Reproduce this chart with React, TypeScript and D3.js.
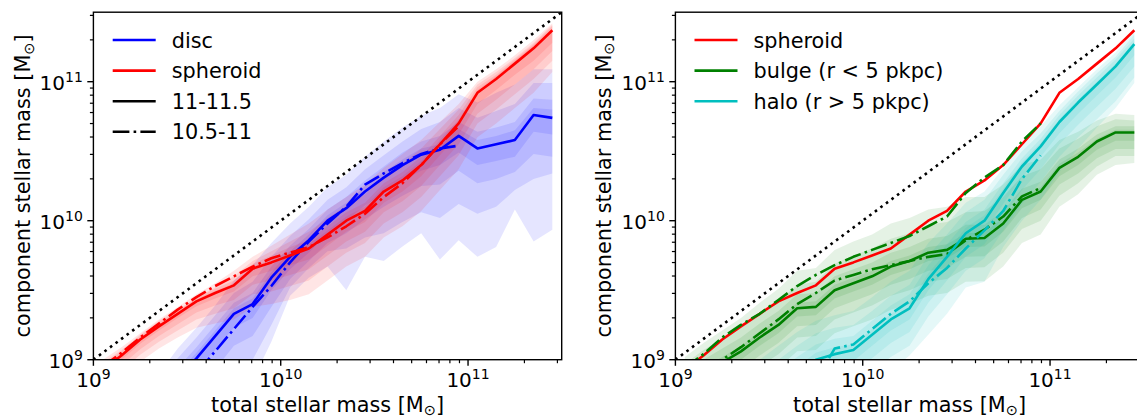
import React from "react";
import * as d3 from "d3";

// log10 of total stellar mass, bin centres
const logMassBins = [9.05, 9.15, 9.25, 9.35, 9.45, 9.55, 9.65, 9.75, 9.85, 9.95, 10.05, 10.15, 10.25, 10.35, 10.45, 10.55, 10.65, 10.75, 10.85, 10.95, 11.05, 11.15, 11.25, 11.35, 11.45];

// ---- left panel: disc / spheroid, log10 component mass ----
// 11-11.5 sample (solid)
const discMedian = [8.2, 8.35, 8.5, 8.7, 8.86, 9.01, 9.17, 9.33, 9.40, 9.59, 9.74, 9.86, 10.00, 10.09, 10.21, 10.31, 10.40, 10.475, 10.51, 10.61, 10.52, 10.55, 10.58, 10.76, 10.74];
const spheroidMedian = [8.93, 9.03, 9.145, 9.24, 9.33, 9.42, 9.48, 9.535, 9.655, 9.70, 9.75, 9.80, 9.90, 10.00, 10.07, 10.21, 10.29, 10.40, 10.55, 10.70, 10.92, 11.02, 11.13, 11.24, 11.37];
// 10.5-11 sample (dash-dot)
const discMedianLow = [7.95, 8.1, 8.27, 8.45, 8.68, 8.9, 9.06, 9.22, 9.38, 9.53, 9.70, 9.85, 9.98, 10.10, 10.26, 10.34, 10.415, 10.48, 10.52, 10.54];
const spheroidMedianLow = [8.95, 9.05, 9.16, 9.26, 9.36, 9.45, 9.53, 9.60, 9.67, 9.73, 9.77, 9.81, 9.88, 9.96, 10.05, 10.17, 10.27, 10.40, 10.55, 10.68];

// disc percentiles
const discP10 = [7.5, 7.7, 7.9, 8.05, 8.2, 8.35, 8.5, 8.65, 8.85, 9.13, 9.46, 9.59, 9.67, 9.50, 9.74, 9.71, 9.815, 9.91, 9.72, 9.86, 9.74, 9.81, 10.08, 9.85, 9.935];
const discP20 = [7.8, 7.95, 8.10, 8.30, 8.45, 8.60, 8.75, 8.90, 9.00, 9.25, 9.52, 9.66, 9.78, 9.80, 9.88, 9.91, 9.99, 10.06, 10.02, 10.12, 10.05, 10.10, 10.22, 10.30, 10.34];
const discP30 = [7.95, 8.10, 8.25, 8.45, 8.62, 8.78, 8.93, 9.10, 9.17, 9.38, 9.58, 9.71, 9.84, 9.91, 10.01, 10.10, 10.18, 10.25, 10.26, 10.36, 10.27, 10.30, 10.35, 10.48, 10.46];
const discP40 = [8.10, 8.25, 8.40, 8.60, 8.76, 8.92, 9.07, 9.23, 9.30, 9.50, 9.65, 9.77, 9.91, 10.00, 10.11, 10.20, 10.29, 10.36, 10.40, 10.49, 10.40, 10.43, 10.46, 10.64, 10.62];
const discP60 = [8.24, 8.39, 8.54, 8.74, 8.90, 9.05, 9.21, 9.37, 9.44, 9.63, 9.78, 9.90, 10.04, 10.13, 10.25, 10.35, 10.44, 10.52, 10.55, 10.66, 10.58, 10.61, 10.65, 10.81, 10.80];
const discP70 = [8.28, 8.43, 8.58, 8.78, 8.94, 9.09, 9.25, 9.41, 9.48, 9.67, 9.82, 9.94, 10.08, 10.17, 10.29, 10.39, 10.49, 10.57, 10.61, 10.71, 10.64, 10.67, 10.71, 10.88, 10.87];
const discP80 = [8.35, 8.50, 8.65, 8.85, 9.01, 9.16, 9.32, 9.48, 9.56, 9.74, 9.89, 10.01, 10.15, 10.24, 10.37, 10.47, 10.57, 10.66, 10.71, 10.81, 10.74, 10.79, 10.84, 10.99, 10.99];
const discP90 = [8.40, 8.55, 8.70, 8.90, 9.08, 9.23, 9.39, 9.57, 9.68, 9.84, 9.98, 10.10, 10.24, 10.33, 10.46, 10.57, 10.67, 10.755, 10.81, 10.91, 10.85, 10.92, 10.98, 11.09, 11.09];

// spheroid percentiles
const sphP10 = [8.77, 8.87, 8.985, 9.08, 9.16, 9.23, 9.26, 9.29, 9.38, 9.40, 9.43, 9.47, 9.57, 9.67, 9.74, 9.88, 9.96, 10.07, 10.22, 10.37, 10.60, 10.70, 10.81, 10.92, 11.07];
const sphP20 = [8.82, 8.92, 9.035, 9.13, 9.21, 9.29, 9.33, 9.37, 9.47, 9.49, 9.53, 9.57, 9.67, 9.77, 9.84, 9.98, 10.06, 10.17, 10.32, 10.47, 10.70, 10.80, 10.91, 11.02, 11.15];
const sphP30 = [8.86, 8.96, 9.075, 9.17, 9.255, 9.34, 9.39, 9.43, 9.54, 9.57, 9.61, 9.65, 9.75, 9.85, 9.92, 10.06, 10.14, 10.25, 10.40, 10.55, 10.77, 10.87, 10.98, 11.09, 11.22];
const sphP40 = [8.90, 9.0, 9.115, 9.21, 9.30, 9.385, 9.44, 9.49, 9.60, 9.64, 9.68, 9.72, 9.82, 9.92, 9.99, 10.13, 10.21, 10.32, 10.47, 10.62, 10.84, 10.94, 11.05, 11.15, 11.28];
const sphP60 = [8.945, 9.045, 9.16, 9.255, 9.345, 9.435, 9.495, 9.55, 9.67, 9.72, 9.78, 9.83, 9.93, 10.03, 10.10, 10.24, 10.32, 10.43, 10.58, 10.73, 10.94, 11.04, 11.15, 11.26, 11.38];
const sphP70 = [8.96, 9.06, 9.17, 9.27, 9.35, 9.44, 9.51, 9.57, 9.69, 9.75, 9.81, 9.86, 9.96, 10.06, 10.13, 10.27, 10.35, 10.46, 10.61, 10.76, 10.96, 11.05, 11.16, 11.27, 11.40];
const sphP80 = [8.98, 9.07, 9.18, 9.28, 9.36, 9.45, 9.52, 9.60, 9.71, 9.78, 9.85, 9.92, 10.02, 10.11, 10.19, 10.32, 10.41, 10.52, 10.66, 10.80, 10.98, 11.07, 11.17, 11.28, 11.41];
const sphP90 = [9.0, 9.09, 9.19, 9.29, 9.38, 9.47, 9.55, 9.64, 9.74, 9.82, 9.90, 9.98, 10.08, 10.17, 10.26, 10.38, 10.48, 10.58, 10.71, 10.84, 11.0, 11.09, 11.19, 11.30, 11.42];

// ---- right panel: bulge / halo ----
const bulgeMedian = [8.8, 8.9, 8.98, 9.06, 9.16, 9.25, 9.37, 9.38, 9.50, 9.55, 9.60, 9.67, 9.71, 9.77, 9.79, 9.87, 9.875, 9.98, 10.15, 10.21, 10.38, 10.46, 10.57, 10.635, 10.635];
const haloMedian = [8.3, 8.45, 8.55, 8.62, 8.7, 8.8, 8.9, 9.0, 9.04, 9.07, 9.18, 9.29, 9.37, 9.58, 9.74, 9.91, 10.0, 10.20, 10.39, 10.535, 10.71, 10.85, 10.98, 11.11, 11.27];
const bulgeMedianLow = [8.82, 8.92, 9.0, 9.09, 9.19, 9.29, 9.40, 9.48, 9.57, 9.61, 9.65, 9.68, 9.71, 9.74, 9.76, 9.86, 9.935, 10.03, 10.175, 10.235];
const bulgeUpperMedianLow = [8.94, 9.04, 9.16, 9.25, 9.33, 9.43, 9.53, 9.61, 9.68, 9.74, 9.79, 9.84, 9.89, 9.96, 10.03, 10.20, 10.31, 10.40, 10.57, 10.70];
const haloMedianLow = [8.1, 8.2, 8.3, 8.4, 8.5, 8.6, 8.7, 8.85, 9.08, 9.11, 9.22, 9.33, 9.42, 9.55, 9.66, 9.80, 9.93, 10.07, 10.30, 10.47];

const bulgeP10 = [8.49, 8.59, 8.67, 8.75, 8.85, 8.94, 9.06, 9.07, 9.19, 9.24, 9.29, 9.36, 9.40, 9.46, 9.48, 9.56, 9.565, 9.67, 9.84, 9.90, 10.10, 10.19, 10.33, 10.40, 10.415];
const bulgeP20 = [8.59, 8.69, 8.77, 8.85, 8.95, 9.04, 9.16, 9.17, 9.29, 9.34, 9.39, 9.46, 9.50, 9.56, 9.58, 9.66, 9.665, 9.77, 9.94, 10.00, 10.18, 10.27, 10.39, 10.465, 10.465];
const bulgeP30 = [8.67, 8.77, 8.85, 8.93, 9.03, 9.12, 9.24, 9.25, 9.37, 9.42, 9.47, 9.54, 9.58, 9.64, 9.66, 9.74, 9.745, 9.85, 10.02, 10.08, 10.26, 10.34, 10.45, 10.515, 10.515];
const bulgeP40 = [8.74, 8.84, 8.92, 9.00, 9.10, 9.19, 9.31, 9.32, 9.44, 9.49, 9.54, 9.61, 9.65, 9.71, 9.73, 9.81, 9.815, 9.92, 10.09, 10.15, 10.32, 10.40, 10.51, 10.575, 10.575];
const bulgeP60 = [8.84, 8.94, 9.02, 9.10, 9.20, 9.29, 9.41, 9.42, 9.54, 9.59, 9.64, 9.71, 9.75, 9.81, 9.83, 9.91, 9.915, 10.02, 10.18, 10.24, 10.41, 10.49, 10.59, 10.655, 10.655];
const bulgeP70 = [8.90, 9.00, 9.08, 9.16, 9.26, 9.35, 9.47, 9.48, 9.60, 9.65, 9.70, 9.77, 9.81, 9.87, 9.89, 9.97, 9.97, 10.07, 10.23, 10.28, 10.44, 10.52, 10.62, 10.68, 10.68];
const bulgeP80 = [8.97, 9.07, 9.15, 9.23, 9.33, 9.42, 9.54, 9.56, 9.69, 9.75, 9.80, 9.87, 9.91, 9.97, 9.99, 10.06, 10.07, 10.17, 10.32, 10.37, 10.52, 10.59, 10.68, 10.73, 10.72];
const bulgeP90 = [9.02, 9.12, 9.21, 9.30, 9.41, 9.51, 9.64, 9.66, 9.79, 9.85, 9.90, 9.98, 10.02, 10.08, 10.10, 10.17, 10.17, 10.26, 10.40, 10.44, 10.58, 10.64, 10.72, 10.77, 10.76];

const haloP10 = [7.9, 8.05, 8.15, 8.22, 8.30, 8.40, 8.50, 8.60, 8.65, 8.70, 8.80, 8.92, 9.03, 9.18, 9.33, 9.52, 9.56, 9.81, 10.0, 10.15, 10.35, 10.52, 10.67, 10.81, 10.99];
const haloP20 = [8.03, 8.18, 8.28, 8.35, 8.43, 8.53, 8.63, 8.73, 8.77, 8.80, 8.91, 9.02, 9.10, 9.31, 9.47, 9.64, 9.73, 9.93, 10.12, 10.28, 10.46, 10.60, 10.73, 10.86, 11.03];
const haloP30 = [8.13, 8.28, 8.38, 8.45, 8.53, 8.63, 8.73, 8.83, 8.87, 8.90, 9.01, 9.12, 9.20, 9.41, 9.57, 9.74, 9.83, 10.03, 10.22, 10.37, 10.55, 10.69, 10.82, 10.95, 11.11];
const haloP40 = [8.22, 8.37, 8.47, 8.54, 8.62, 8.72, 8.82, 8.92, 8.96, 8.99, 9.10, 9.21, 9.29, 9.50, 9.66, 9.83, 9.92, 10.12, 10.31, 10.46, 10.63, 10.77, 10.90, 11.03, 11.19];
const haloP60 = [8.35, 8.5, 8.6, 8.67, 8.75, 8.85, 8.95, 9.05, 9.09, 9.11, 9.22, 9.33, 9.41, 9.62, 9.78, 9.95, 10.04, 10.23, 10.42, 10.56, 10.73, 10.87, 11.0, 11.13, 11.29];
const haloP70 = [8.42, 8.57, 8.67, 8.74, 8.82, 8.92, 9.02, 9.11, 9.15, 9.17, 9.28, 9.39, 9.47, 9.68, 9.83, 9.99, 10.08, 10.27, 10.45, 10.59, 10.76, 10.90, 11.03, 11.16, 11.31];
const haloP80 = [8.5, 8.65, 8.75, 8.82, 8.9, 9.0, 9.1, 9.19, 9.23, 9.25, 9.35, 9.46, 9.54, 9.75, 9.90, 10.06, 10.15, 10.33, 10.50, 10.63, 10.79, 10.93, 11.06, 11.18, 11.34];
const haloP90 = [8.6, 8.75, 8.85, 8.92, 9.0, 9.1, 9.2, 9.28, 9.32, 9.35, 9.45, 9.56, 9.64, 9.84, 9.98, 10.13, 10.21, 10.38, 10.55, 10.68, 10.83, 10.96, 11.09, 11.21, 11.37];

const axisLogRange = [9, 11.5];
const majorTickExponents = [9, 10, 11];

const BLUE = "#0000ff";
const RED = "#ff0000";
const GREEN = "#008000";
const CYAN = "#00bfbf";

const FONT = "DejaVu Sans, Liberation Sans, sans-serif";
const DASHDOT = "16.7,4.2,2.6,4.2";
const DOTTED = "2.6,4.3";
const LW = 2.6;

const Y_BOTTOM = 359.7;
const Y_TOP = 12.2;

type Band = { lo: number[]; hi: number[] };

function Panel(props: {
  id: string;
  x0: number;
  x1: number;
  yLabelX: number;
  bands: { color: string; list: Band[] }[];
  lines: { color: string; values: number[]; dash?: string }[];
  legend: { color: string; label: string; dash?: string }[];
  legendX: number;
}) {
  const { id, x0, x1, yLabelX, bands, lines, legend, legendX } = props;
  const x = d3.scaleLog().domain(axisLogRange.map((v) => Math.pow(10, v))).range([x0, x1]);
  const y = d3.scaleLog().domain(axisLogRange.map((v) => Math.pow(10, v))).range([Y_BOTTOM, Y_TOP]);

  const area = (b: Band) =>
    d3
      .area<number>()
      .x((_, i) => x(Math.pow(10, logMassBins[i])))
      .y0((_, i) => y(Math.pow(10, b.lo[i])))
      .y1((_, i) => y(Math.pow(10, b.hi[i])))(b.lo.map((_, i) => i)) || "";

  const line = (vals: number[]) =>
    d3
      .line<number>()
      .x((i) => x(Math.pow(10, logMassBins[i])))
      .y((i) => y(Math.pow(10, vals[i])))(vals.map((_, i) => i)) || "";

  const diag =
    d3
      .line<number>()
      .x((v) => x(Math.pow(10, v)))
      .y((v) => y(Math.pow(10, v)))(axisLogRange) || "";

  const allTicks = x.ticks();
  const isMajor = (t: number) => Math.abs(Math.log10(t) - Math.round(Math.log10(t))) < 1e-6;
  const minor = allTicks.filter((t) => !isMajor(t));
  const major = majorTickExponents.map((e) => Math.pow(10, e));

  return (
    <g fontFamily={FONT}>
      <defs>
        <clipPath id={id}>
          <rect x={x0} y={Y_TOP} width={x1 - x0} height={Y_BOTTOM - Y_TOP} />
        </clipPath>
      </defs>
      <g clipPath={`url(#${id})`}>
        {bands.map((bs, k) =>
          bs.list.map((b, j) => <path key={`b${k}-${j}`} d={area(b)} fill={bs.color} fillOpacity={0.1} stroke="none" />)
        )}
        {lines.map((l, k) => (
          <path key={`l${k}`} d={line(l.values)} fill="none" stroke={l.color} strokeWidth={LW} strokeDasharray={l.dash} strokeLinejoin="round" />
        ))}
        <path d={diag} fill="none" stroke="#000" strokeWidth={LW} strokeDasharray={DOTTED} />
      </g>
      <rect x={x0} y={Y_TOP} width={x1 - x0} height={Y_BOTTOM - Y_TOP} fill="none" stroke="#000" strokeWidth={1.4} />
      {/* x ticks */}
      {minor.map((t, i) => (
        <line key={`xm${i}`} x1={x(t)} x2={x(t)} y1={Y_BOTTOM} y2={Y_BOTTOM + 3.5} stroke="#000" strokeWidth={1.2} />
      ))}
      {major.map((t, i) => (
        <g key={`xM${i}`}>
          <line x1={x(t)} x2={x(t)} y1={Y_BOTTOM} y2={Y_BOTTOM + 6.1} stroke="#000" strokeWidth={1.4} />
          <text x={x(t)} y={387} textAnchor="middle" fontSize={20}>
            10<tspan dy={-8.3} fontSize={14}>{majorTickExponents[i]}</tspan>
          </text>
        </g>
      ))}
      {/* y ticks */}
      {minor.map((t, i) => (
        <line key={`ym${i}`} x1={x0} x2={x0 - 3.5} y1={y(t)} y2={y(t)} stroke="#000" strokeWidth={1.2} />
      ))}
      {major.map((t, i) => (
        <g key={`yM${i}`}>
          <line x1={x0} x2={x0 - 6.1} y1={y(t)} y2={y(t)} stroke="#000" strokeWidth={1.4} />
          <text x={x0 - 10.5} y={y(t) + 8.3} textAnchor="end" fontSize={20}>
            10<tspan dy={-8.3} fontSize={14}>{majorTickExponents[i]}</tspan>
          </text>
        </g>
      ))}
      {/* axis labels */}
      <text x={(x0 + x1) / 2} y={411.5} textAnchor="middle" fontSize={20.8}>
        total stellar mass [M<tspan dy={3.5} fontSize={14.5}>⊙</tspan>
        <tspan dy={-3.5}>]</tspan>
      </text>
      <text transform={`translate(${yLabelX},${(Y_TOP + Y_BOTTOM) / 2}) rotate(-90)`} textAnchor="middle" fontSize={20.8}>
        component stellar mass [M<tspan dy={3.5} fontSize={14.5}>⊙</tspan>
        <tspan dy={-3.5}>]</tspan>
      </text>
      {/* legend */}
      {legend.map((e, i) => {
        const ly = 40 + i * 30.6;
        return (
          <g key={`lg${i}`}>
            <line x1={legendX} x2={legendX + 43} y1={ly} y2={ly} stroke={e.color} strokeWidth={LW} strokeDasharray={e.dash} />
            <text x={legendX + 59} y={ly + 7.6} fontSize={20.8}>
              {e.label}
            </text>
          </g>
        );
      })}
    </g>
  );
}

export default function App() {
  const discBands: Band[] = [
    { lo: discP10, hi: discP90 },
    { lo: discP20, hi: discP80 },
    { lo: discP30, hi: discP70 },
    { lo: discP40, hi: discP60 },
  ];
  const sphBands: Band[] = [
    { lo: sphP10, hi: sphP90 },
    { lo: sphP20, hi: sphP80 },
    { lo: sphP30, hi: sphP70 },
    { lo: sphP40, hi: sphP60 },
  ];
  const bulgeBands: Band[] = [
    { lo: bulgeP10, hi: bulgeP90 },
    { lo: bulgeP20, hi: bulgeP80 },
    { lo: bulgeP30, hi: bulgeP70 },
    { lo: bulgeP40, hi: bulgeP60 },
  ];
  const haloBands: Band[] = [
    { lo: haloP10, hi: haloP90 },
    { lo: haloP20, hi: haloP80 },
    { lo: haloP30, hi: haloP70 },
    { lo: haloP40, hi: haloP60 },
  ];
  return (
    <svg width={1137} height={418} style={{ position: "absolute", left: 0, top: 0, background: "#fff" }}>
      <rect x={0} y={0} width={1137} height={418} fill="#fff" />
      <Panel
        id="clipL"
        x0={93.4}
        x1={561.7}
        yLabelX={30}
        legendX={112.7}
        bands={[
          { color: BLUE, list: discBands },
          { color: RED, list: sphBands },
        ]}
        lines={[
          { color: BLUE, values: discMedian },
          { color: BLUE, values: discMedianLow, dash: DASHDOT },
          { color: RED, values: spheroidMedian },
          { color: RED, values: spheroidMedianLow, dash: DASHDOT },
        ]}
        legend={[
          { color: BLUE, label: "disc" },
          { color: RED, label: "spheroid" },
          { color: "#000", label: "11-11.5" },
          { color: "#000", label: "10.5-11", dash: DASHDOT },
        ]}
      />
      <Panel
        id="clipR"
        x0={675.4}
        x1={1143.7}
        yLabelX={610.5}
        legendX={694.5}
        bands={[
          { color: GREEN, list: bulgeBands },
          { color: CYAN, list: haloBands },
        ]}
        lines={[
          { color: RED, values: spheroidMedian },
          { color: GREEN, values: bulgeMedian },
          { color: GREEN, values: bulgeMedianLow, dash: DASHDOT },
          { color: GREEN, values: bulgeUpperMedianLow, dash: DASHDOT },
          { color: CYAN, values: haloMedian },
          { color: CYAN, values: haloMedianLow, dash: DASHDOT },
        ]}
        legend={[
          { color: RED, label: "spheroid" },
          { color: GREEN, label: "bulge (r < 5 pkpc)" },
          { color: CYAN, label: "halo (r > 5 pkpc)" },
        ]}
      />
    </svg>
  );
}
